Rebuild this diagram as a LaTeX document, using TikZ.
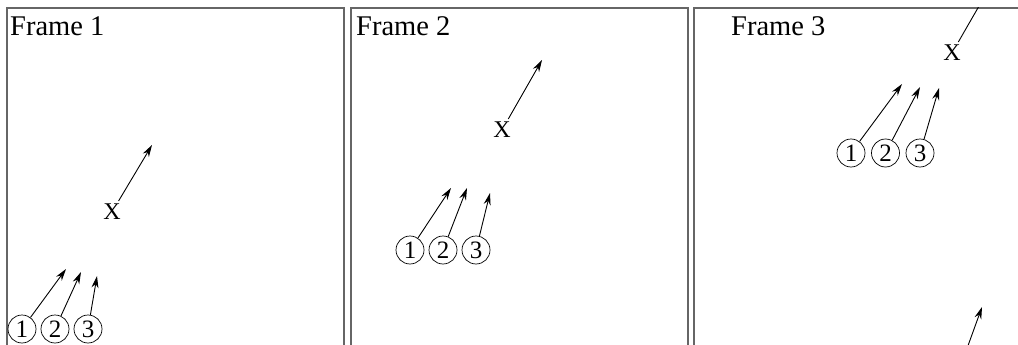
\documentclass[tikz,border=0pt]{standalone}
\usepackage{fontspec}
\setmainfont{Liberation Serif}
\usetikzlibrary{arrows.meta}

\tikzstyle{frameBox} = [draw=black!60, line width=1.2pt]
\tikzstyle{frameLabel} = [anchor=base west, inner sep=0pt, font=\fontsize{28.5}{30}\selectfont]
\tikzstyle{numNode} = [circle, draw=black, line width=0.7pt, minimum size=28pt, inner sep=0pt, font=\fontsize{25}{26}\selectfont]
\tikzstyle{xNode} = [inner sep=3pt, font=\fontsize{24}{25}\selectfont]
\tikzstyle{arrow} = [line width=0.9pt, -{Stealth[length=12pt,width=7pt]}]

\begin{document}
\begin{tikzpicture}[x=1pt, y=-1pt, node distance=33pt]
    \useasboundingbox (0,0) rectangle (1018,345);
    \clip (0,0) rectangle (1018,345);

    % frame 1
    \draw[frameBox] (7,8) rectangle (344,370);
    \node (lab1)[frameLabel] at (10,36) {Frame 1};
    \node (x1)[xNode] at (112,212) {X};
    \node (n11)[numNode] at (22,329) {1};
    \node (n12)[numNode, right of=n11] {2};
    \node (n13)[numNode, right of=n12] {3};
    \coordinate (x1tip) at (152,145);
    \coordinate (t11) at (66,269);
    \coordinate (t12) at (81,272);
    \coordinate (t13) at (97,276);

    \draw [arrow] (x1) -- (x1tip);
    \draw [arrow] (n11) -- (t11);
    \draw [arrow] (n12) -- (t12);
    \draw [arrow] (n13) -- (t13);

    % frame 2
    \draw[frameBox] (351,8) rectangle (688,370);
    \node (lab2)[frameLabel] at (356,36) {Frame 2};
    \node (x2)[xNode] at (502,130) {X};
    \node (n21)[numNode] at (410,250) {1};
    \node (n22)[numNode, right of=n21] {2};
    \node (n23)[numNode, right of=n22] {3};
    \coordinate (x2tip) at (542,60);
    \coordinate (t21) at (451,188);
    \coordinate (t22) at (467,188);
    \coordinate (t23) at (490,193);

    \draw [arrow] (x2) -- (x2tip);
    \draw [arrow] (n21) -- (t21);
    \draw [arrow] (n22) -- (t22);
    \draw [arrow] (n23) -- (t23);

    % frame 3
    \draw[frameBox] (694,8) rectangle (1031,370);
    \begin{scope}
      \clip (694,8) rectangle (1031,370);
      \node (lab3)[frameLabel] at (731,36) {Frame 3};
      \node (x3)[xNode] at (952,53) {X};
      \node (n31)[numNode] at (851,153) {1};
      \node (n32)[numNode, right of=n31, xshift=1.5pt] {2};
      \node (n33)[numNode, right of=n32, xshift=1.5pt] {3};
      \coordinate (x3tip) at (994,-20);
      \coordinate (t31) at (902,84);
      \coordinate (t32) at (920,87);
      \coordinate (t33) at (939,88);
      \coordinate (tail) at (961,365);
      \coordinate (t34) at (982,307);

      \draw [arrow] (x3) -- (x3tip);
      \draw [arrow] (n31) -- (t31);
      \draw [arrow] (n32) -- (t32);
      \draw [arrow] (n33) -- (t33);
      \draw [arrow] (tail) -- (t34);
    \end{scope}

  \end{tikzpicture}
\end{document}
